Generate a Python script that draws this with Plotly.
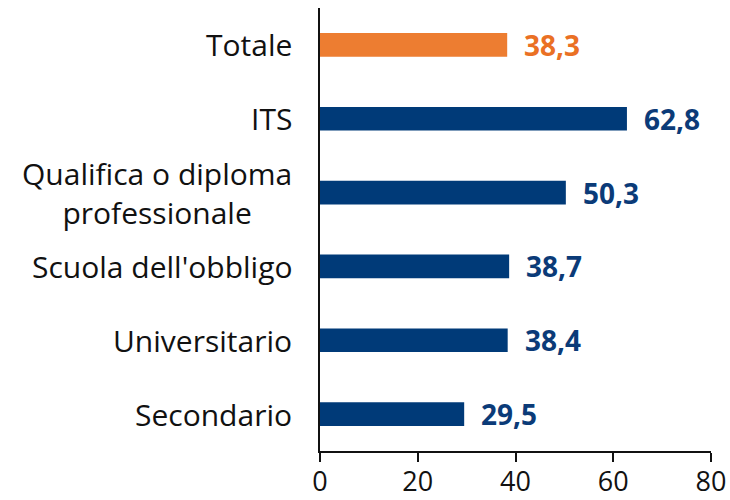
import plotly.graph_objects as go

# Categories listed bottom-to-top as they appear on the axis
categories = ["Secondario", "Universitario", "Scuola dell'obbligo",
              "Qualifica o diploma<br>professionale", "ITS", "Totale"]
values = [29.5, 38.4, 38.7, 50.3, 62.8, 38.3]
x_ticks = [0, 20, 40, 60, 80]

NAVY = "#003A78"
ORANGE = "#ED7D31"
NAVY_TXT = "#0B3B78"
ORANGE_TXT = "#EA7024"
FONT = "Open Sans"

bar_colors = [ORANGE if c == "Totale" else NAVY for c in categories]
text_colors = [ORANGE_TXT if c == "Totale" else NAVY_TXT for c in categories]


def fmt(v):
    return f"{v:.1f}".replace(".", ",")


fig = go.Figure(
    go.Bar(
        x=values,
        y=categories,
        orientation="h",
        marker=dict(color=bar_colors, line=dict(width=0)),
        hoverinfo="skip",
    )
)

# Value labels to the right of each bar
for c, v, col in zip(categories, values, text_colors):
    fig.add_annotation(
        x=v, y=c, xref="x", yref="y",
        text=f"<b>{fmt(v)}</b>",
        showarrow=False, xanchor="left", yanchor="middle",
        xshift=15,
        font=dict(family=FONT, size=28, color=col),
    )

# Category labels left of the axis; wrapped lines are centred on each other
for c in categories:
    fig.add_annotation(
        x=0, y=c, xref="paper", yref="y",
        text=c, showarrow=False, xanchor="right", yanchor="middle",
        align="center", xshift=-26,
        font=dict(family=FONT, size=30, color="#111111"),
    )

fig.update_layout(
    width=730, height=500,
    margin=dict(l=320, r=19, t=8, b=49),
    plot_bgcolor="white", paper_bgcolor="white",
    bargap=0.68,
    showlegend=False,
    font=dict(family=FONT, size=28, color="#111111"),
)

fig.update_xaxes(
    range=[0, 80], tickvals=x_ticks, ticktext=[str(t) for t in x_ticks],
    automargin=False,
    showgrid=False, zeroline=False,
    showline=True, linecolor="#111111", linewidth=1.5,
    ticks="outside", ticklen=9, tickwidth=1.5, tickcolor="#111111",
    ticklabelstandoff=-3,
    tickfont=dict(family=FONT, size=27, color="#111111"),
)
fig.update_yaxes(
    categoryorder="array", categoryarray=categories,
    automargin=False,
    showticklabels=False, showgrid=False, zeroline=False,
    showline=True, linecolor="#111111", linewidth=2,
    ticks="",
)

fig.write_html("out.html")
